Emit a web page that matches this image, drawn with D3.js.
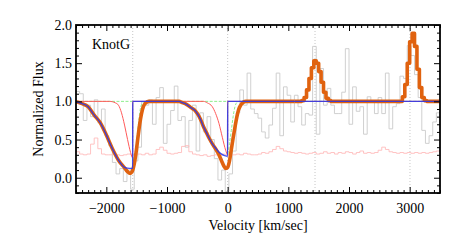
<!DOCTYPE html>
<html>
<head>
<meta charset="utf-8">
<script src="https://cdn.jsdelivr.net/npm/d3@7"></script>
<style>
body { margin: 0; background: #fff; }
svg text { font-family: "Liberation Serif", "Times New Roman", serif; fill: #000; }
</style>
</head>
<body>
<div id="chart"></div>
<script>
// Observed spectrum, 60 km/s bins starting at -2500
const fluxData = [
  1.13, 1.10, 0.75, 0.95, 0.80, 1.02, 0.72, 0.90, 0.55, 0.42,
  0.20, 0.05, 0.12, -0.05, 0.10, -0.15, 0.22, 0.40, 1.00, 0.95,
  1.02, 0.70, 1.05, 1.18, 0.45, 0.70, 0.88, 1.20, 0.75, 0.80,
  0.40, 0.75, 0.95, 0.35, 0.85, 0.60, 0.80, 0.50, 0.25, -0.03,
  0.10, -0.18, 0.05, 0.35, 0.85, 1.15, 0.95, 1.37, 0.90, 0.84,
  0.78, 0.60, 0.52, 0.69, 0.91, 1.37, 0.55, 1.19, 1.08, 0.73,
  1.08, 0.93, 0.69, 0.84, 0.82, 1.72, 0.57, 1.43, 0.95, 1.17,
  0.95, 0.84, 0.84, 1.12, 1.69, 0.70, 1.19, 0.87, 0.93, 0.57,
  1.06, 1.00, 0.84, 1.05, 0.84, 1.37, 0.64, 0.93, 0.97, 1.33,
  1.30, 1.73, 1.60, 1.35, 1.05, 0.62, 0.45, 0.55, 0.73, 0.85
]

// Error spectrum, same bins
const errorData = [
  0.34, 0.31, 0.30, 0.31, 0.44, 0.52, 0.38, 0.31, 0.30, 0.30,
  0.31, 0.30, 0.29, 0.30, 0.31, 0.30, 0.30, 0.31, 0.30, 0.32,
  0.30, 0.31, 0.37, 0.40, 0.36, 0.32, 0.31, 0.32, 0.33, 0.41,
  0.42, 0.34, 0.31, 0.30, 0.29, 0.30, 0.28, 0.29, 0.30, 0.29,
  0.31, 0.30, 0.29, 0.30, 0.31, 0.30, 0.32, 0.31, 0.30, 0.30,
  0.31, 0.33, 0.32, 0.34, 0.37, 0.41, 0.38, 0.35, 0.34, 0.33,
  0.32, 0.33, 0.32, 0.31, 0.32, 0.33, 0.31, 0.32, 0.34, 0.32,
  0.33, 0.31, 0.33, 0.32, 0.34, 0.33, 0.31, 0.33, 0.35, 0.32,
  0.33, 0.32, 0.33, 0.36, 0.40, 0.37, 0.34, 0.33, 0.32, 0.33,
  0.32, 0.33, 0.32, 0.33, 0.32, 0.33, 0.32, 0.33, 0.34, 0.35
]
const binStart = -2500
const binWidth = 60

// Model curves, [velocity, flux]
const totalModel = [
  [-2500, 0.995], [-2400, 0.97], [-2300, 0.93], [-2200, 0.82], [-2100, 0.72],
  [-2000, 0.56], [-1900, 0.38], [-1800, 0.23], [-1700, 0.13], [-1650, 0.08],
  [-1620, 0.06], [-1590, 0.065], [-1565, 0.10], [-1540, 0.18], [-1510, 0.33],
  [-1480, 0.52], [-1450, 0.70], [-1420, 0.84], [-1390, 0.93], [-1350, 0.98],
  [-1300, 1.0], [-800, 1.0], [-750, 0.985], [-700, 0.97], [-650, 0.945],
  [-600, 0.915], [-550, 0.89], [-500, 0.84], [-450, 0.77], [-400, 0.67],
  [-350, 0.59], [-300, 0.51], [-250, 0.44], [-200, 0.38], [-150, 0.31],
  [-100, 0.22], [-60, 0.15], [-30, 0.12], [0, 0.135], [30, 0.22],
  [60, 0.37], [90, 0.52], [120, 0.66], [150, 0.79], [180, 0.89],
  [215, 0.95], [260, 0.99], [300, 1.0], [1100, 1.0]
]
const emissionModel = [
  [1100, 1.0], [1200, 1.0], [1240, 1.01], [1280, 1.05], [1320, 1.15],
  [1360, 1.30], [1400, 1.44], [1440, 1.53], [1480, 1.50], [1520, 1.39],
  [1560, 1.25], [1600, 1.12], [1640, 1.04], [1680, 1.01], [1720, 1.0],
  [2860, 1.0], [2900, 1.06], [2940, 1.22], [2980, 1.50], [3020, 1.78],
  [3060, 1.89], [3100, 1.72], [3140, 1.42], [3180, 1.18], [3220, 1.05],
  [3260, 1.01], [3300, 1.0], [3500, 1.0]
]
const broadModel = [
  [-2500, 0.995], [-2400, 0.97], [-2300, 0.93], [-2200, 0.82], [-2100, 0.72],
  [-2000, 0.56], [-1900, 0.38], [-1800, 0.23], [-1700, 0.135], [-1650, 0.125],
  [-1600, 0.12], [-1566, 0.125], [-1565, 1.0], [-800, 1.0], [-750, 0.985],
  [-700, 0.97], [-650, 0.945], [-600, 0.915], [-550, 0.89], [-500, 0.84],
  [-450, 0.77], [-400, 0.67], [-350, 0.59], [-300, 0.51], [-250, 0.44],
  [-200, 0.39], [-150, 0.34], [-100, 0.31], [-50, 0.29], [-1, 0.28],
  [0, 1.0], [3500, 1.0]
]
const narrowModel = [
  [-2500, 1.0], [-1950, 1.0], [-1900, 0.995], [-1850, 0.98], [-1800, 0.95],
  [-1750, 0.85], [-1700, 0.69], [-1650, 0.50], [-1600, 0.33], [-1566, 0.26],
  [-1565, 1.0], [-400, 1.0], [-335, 0.98], [-253, 0.93], [-198, 0.84],
  [-143, 0.71], [-88, 0.53], [-33, 0.36], [-1, 0.30], [0, 1.0], [3500, 1.0]
]
const wingModel = [
  [-2500, 1.0], [-1566, 1.0], [-1565, 0.22], [-1540, 0.28], [-1515, 0.38],
  [-1490, 0.56], [-1460, 0.78], [-1435, 0.92], [-1400, 0.98], [-1360, 1.0],
  [-1, 1.0], [0, 0.30], [30, 0.45], [60, 0.62], [90, 0.80], [120, 0.93],
  [160, 0.99], [200, 1.0], [3500, 1.0]
]
const markerVel = [-1565, 0, 1440, 3005]

const xTicks = [-2000, -1000, 0, 1000, 2000, 3000]
const yTicks = [0.0, 0.5, 1.0, 1.5, 2.0]
const label = "KnotG"

const width = 463, height = 245
const margin = { left: 76, right: 23, top: 25, bottom: 52 }
const plotW = width - margin.left - margin.right
const plotH = height - margin.top - margin.bottom

const svg = d3.select("#chart").append("svg")
  .attr("width", width).attr("height", height)

const g = svg.append("g").attr("transform", `translate(${margin.left},${margin.top})`)

const x = d3.scaleLinear().domain([-2500, 3500]).range([0, plotW])
const y = d3.scaleLinear().domain([-0.2, 2.0]).range([plotH, 0])

const defs = svg.append("defs")
defs.append("clipPath").attr("id", "clip")
  .append("rect").attr("width", plotW).attr("height", plotH)

const plot = g.append("g").attr("clip-path", "url(#clip)")

// dotted markers
plot.selectAll(".marker").data(markerVel).join("line")
  .attr("x1", d => x(d)).attr("x2", d => x(d))
  .attr("y1", 0).attr("y2", plotH)
  .attr("stroke", "#b8b8b8").attr("stroke-width", 0.8)
  .attr("stroke-dasharray", "1,2")

// histogram data built from bins
const edges = d3.range(fluxData.length + 1).map(i => binStart + i * binWidth)
const stepLine = d3.line().x(d => x(d[0])).y(d => y(d[1])).curve(d3.curveStepAfter)
const toSteps = arr => arr.map((v, i) => [edges[i], v]).concat([[edges[arr.length], arr[arr.length - 1]]])

plot.append("path").datum(toSteps(fluxData))
  .attr("d", stepLine).attr("fill", "none")
  .attr("stroke", "#cbcbcb").attr("stroke-width", 0.9)

plot.append("path").datum(toSteps(errorData))
  .attr("d", stepLine).attr("fill", "none")
  .attr("stroke", "#ffbcbc").attr("stroke-width", 0.9)

const smooth = d3.line().x(d => x(d[0])).y(d => y(d[1])).curve(d3.curveMonotoneX)

plot.append("path").datum(wingModel)
  .attr("d", smooth).attr("fill", "none")
  .attr("stroke", "#8cee8c").attr("stroke-width", 1)
  .attr("stroke-dasharray", "3,1.5")

plot.append("path").datum(narrowModel)
  .attr("d", smooth).attr("fill", "none")
  .attr("stroke", "#ff5a5a").attr("stroke-width", 1)

plot.append("path").datum(totalModel)
  .attr("d", smooth).attr("fill", "none")
  .attr("stroke", "#e0620f").attr("stroke-width", 3.6)
  .attr("stroke-linejoin", "round")

plot.append("path").datum(emissionModel)
  .attr("d", d3.line().x(d => x(d[0])).y(d => y(d[1])).curve(d3.curveStep))
  .attr("fill", "none")
  .attr("stroke", "#e0620f").attr("stroke-width", 3.6)
  .attr("stroke-linejoin", "round")

plot.append("path").datum(broadModel)
  .attr("d", smooth).attr("fill", "none")
  .attr("stroke", "#2436ee").attr("stroke-width", 1.4)
  .attr("stroke-opacity", 0.85)

// axes, ticks inward on all sides
const fmtX = d => d < 0 ? "\u2212" + Math.abs(d) : String(d)
const fmtY = d => d3.format(".1f")(d)
const xMinor = d3.range(-2500, 3501, 100).filter(v => v % 1000 !== 0)
const yMinor = d3.range(-2, 21).map(v => v / 10).filter(v => Math.round(v * 10) % 5 !== 0)

function styleAxis(sel) {
  sel.select(".domain").remove()
  sel.selectAll("line").attr("stroke", "#000").attr("stroke-width", 1)
  sel.selectAll("text").style("font-size", "14px")
}

g.append("g").attr("transform", `translate(0,${plotH})`)
  .call(d3.axisBottom(x).tickValues(xTicks).tickSize(-6).tickPadding(10).tickFormat(fmtX)).call(styleAxis)
g.append("g").attr("transform", `translate(0,${plotH})`)
  .call(d3.axisBottom(x).tickValues(xMinor).tickSize(-3).tickFormat("")).call(styleAxis)
g.append("g")
  .call(d3.axisTop(x).tickValues(xTicks).tickSize(-6).tickFormat("")).call(styleAxis)
g.append("g")
  .call(d3.axisTop(x).tickValues(xMinor).tickSize(-3).tickFormat("")).call(styleAxis)

g.append("g")
  .call(d3.axisLeft(y).tickValues(yTicks).tickSize(-6).tickPadding(4).tickFormat(fmtY)).call(styleAxis)
g.append("g")
  .call(d3.axisLeft(y).tickValues(yMinor).tickSize(-3).tickFormat("")).call(styleAxis)
g.append("g").attr("transform", `translate(${plotW},0)`)
  .call(d3.axisRight(y).tickValues(yTicks).tickSize(-6).tickFormat("")).call(styleAxis)
g.append("g").attr("transform", `translate(${plotW},0)`)
  .call(d3.axisRight(y).tickValues(yMinor).tickSize(-3).tickFormat("")).call(styleAxis)

g.append("rect").attr("width", plotW).attr("height", plotH)
  .attr("fill", "none").attr("stroke", "#000").attr("stroke-width", 1.8)

g.append("text").attr("x", 16).attr("y", 24)
  .style("font-size", "14px").text(label)

svg.append("text")
  .attr("transform", `translate(43,${margin.top + plotH / 2}) rotate(-90)`)
  .attr("text-anchor", "middle").style("font-size", "14px")
  .text("Normalized Flux")

svg.append("text")
  .attr("x", margin.left + plotW / 2).attr("y", 230)
  .attr("text-anchor", "middle").style("font-size", "14px")
  .text("Velocity [km/sec]")
</script>
</body>
</html>
